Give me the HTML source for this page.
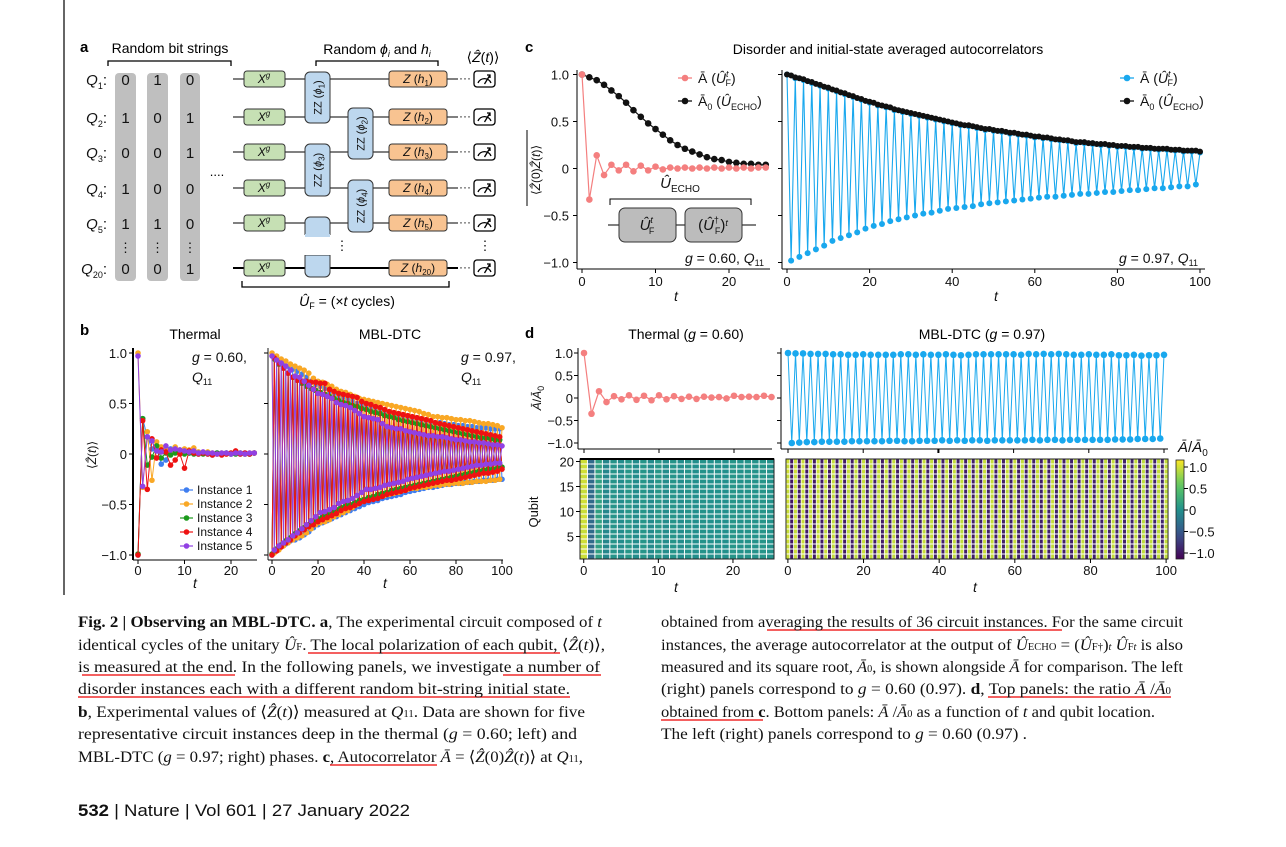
<!DOCTYPE html>
<html><head><meta charset="utf-8">
<style>
html,body{margin:0;padding:0;background:#fff;}
svg{display:block;font-family:"Liberation Sans",sans-serif;}
.cap{font-family:"Liberation Serif",serif;font-size:16px;fill:#111;}
.tk{font-size:13px;fill:#111;}
</style></head>
<body>
<svg id="fig" width="1286" height="847" viewBox="0 0 1286 847" xmlns="http://www.w3.org/2000/svg">
<rect width="1286" height="847" fill="#fff"/>
<line x1="64" y1="0" x2="64" y2="595" stroke="#000" stroke-width="1.2"/>

<g id="panel-a">
<text x="80" y="52" font-size="15" font-weight="bold">a</text>
<text x="170" y="53" font-size="14" text-anchor="middle">Random bit strings</text>
<path d="M108 66 V61 H231 V66" fill="none" stroke="#000" stroke-width="1.3"/>
<text x="377" y="54" font-size="14" text-anchor="middle">Random <tspan font-style="italic">ϕ</tspan><tspan font-size="9" font-style="italic" dy="3">i</tspan><tspan dy="-3"> and </tspan><tspan font-style="italic">h</tspan><tspan font-size="9" font-style="italic" dy="3">i</tspan></text>
<path d="M316 66 V61 H438 V66" fill="none" stroke="#000" stroke-width="1.3"/>
<text x="483" y="62" font-size="14" text-anchor="middle">⟨<tspan font-style="italic">Ẑ</tspan>(<tspan font-style="italic">t</tspan>)⟩</text>
<g id="grey-cols">
<rect x="115" y="73" width="21" height="208" rx="4" fill="#bfbfbf"/>
<rect x="147" y="73" width="21" height="208" rx="4" fill="#bfbfbf"/>
<rect x="180" y="73" width="20" height="208" rx="4" fill="#bfbfbf"/>
</g>
<g id="circuit"></g>
<path d="M242 260 V266 H449 V260" fill="none" stroke="#000" stroke-width="1.3" transform="translate(0,21)"/>
<text x="347" y="306" font-size="14" text-anchor="middle"><tspan font-style="italic">Û</tspan><tspan font-size="9" dy="3">F</tspan><tspan dy="-3"> = (×</tspan><tspan font-style="italic">t</tspan> cycles)</text>
<text x="217" y="176" font-size="13" text-anchor="middle">....</text>
</g>

<text x="525" y="52" font-size="15" font-weight="bold">c</text>
<text x="888" y="54" font-size="14" text-anchor="middle">Disorder and initial-state averaged autocorrelators</text>
<g id="panel-c"></g>

<text x="80" y="335" font-size="15" font-weight="bold">b</text>
<text x="195" y="339" font-size="14" text-anchor="middle">Thermal</text>
<text x="390" y="339" font-size="14" text-anchor="middle">MBL-DTC</text>
<g id="panel-b"></g>

<text x="525" y="338" font-size="15" font-weight="bold">d</text>
<text x="686" y="339" font-size="14" text-anchor="middle">Thermal (<tspan font-style="italic">g</tspan> = 0.60)</text>
<text x="982" y="339" font-size="14" text-anchor="middle">MBL-DTC (<tspan font-style="italic">g</tspan> = 0.97)</text>
<g id="panel-d"></g>

<g id="caption">
<g stroke="#e00" stroke-width="1.3">
<line x1="308" y1="653" x2="560" y2="653"/>
<line x1="82" y1="675" x2="235" y2="675"/>
<line x1="503" y1="675" x2="601" y2="675"/>
<line x1="78" y1="697" x2="570" y2="697"/>
<line x1="330" y1="765" x2="437" y2="765"/>
<line x1="767" y1="630" x2="1062" y2="630"/>
<line x1="988" y1="697" x2="1171" y2="697"/>
<line x1="661" y1="720" x2="763" y2="720"/>
</g>
<text class="cap" x="78" y="627" textLength="524" lengthAdjust="spacingAndGlyphs"><tspan font-weight="bold">Fig. 2 | Observing an MBL-DTC. a</tspan>, The experimental circuit composed of <tspan font-style="italic">t</tspan></text>
<text class="cap" x="78" y="650" textLength="527" lengthAdjust="spacingAndGlyphs">identical cycles of the unitary <tspan font-style="italic">Û</tspan><tspan font-size="10">F</tspan>. The local polarization of each qubit, ⟨<tspan font-style="italic">Ẑ</tspan>(<tspan font-style="italic">t</tspan>)⟩,</text>
<text class="cap" x="78" y="672" textLength="522" lengthAdjust="spacingAndGlyphs">is measured at the end. In the following panels, we investigate a number of</text>
<text class="cap" x="78" y="694" textLength="492" lengthAdjust="spacingAndGlyphs">disorder instances each with a different random bit-string initial state.</text>
<text class="cap" x="78" y="717" textLength="507" lengthAdjust="spacingAndGlyphs"><tspan font-weight="bold">b</tspan>, Experimental values of ⟨<tspan font-style="italic">Ẑ</tspan>(<tspan font-style="italic">t</tspan>)⟩ measured at <tspan font-style="italic">Q</tspan><tspan font-size="10">11</tspan>. Data are shown for five</text>
<text class="cap" x="78" y="739" textLength="499" lengthAdjust="spacingAndGlyphs">representative circuit instances deep in the thermal (<tspan font-style="italic">g</tspan> = 0.60; left) and</text>
<text class="cap" x="78" y="762" textLength="505" lengthAdjust="spacingAndGlyphs">MBL-DTC (<tspan font-style="italic">g</tspan> = 0.97; right) phases. <tspan font-weight="bold">c</tspan>, Autocorrelator <tspan font-style="italic">Ā</tspan> = ⟨<tspan font-style="italic">Ẑ</tspan>(0)<tspan font-style="italic">Ẑ</tspan>(<tspan font-style="italic">t</tspan>)⟩ at <tspan font-style="italic">Q</tspan><tspan font-size="10">11</tspan>,</text>
<text class="cap" x="661" y="627" textLength="522" lengthAdjust="spacingAndGlyphs">obtained from averaging the results of 36 circuit instances. For the same circuit</text>
<text class="cap" x="661" y="650" textLength="522" lengthAdjust="spacingAndGlyphs">instances, the average autocorrelator at the output of <tspan font-style="italic">Û</tspan><tspan font-size="10">ECHO</tspan> = (<tspan font-style="italic">Û</tspan><tspan font-size="10">F</tspan><tspan font-size="10">†</tspan>)<tspan font-size="10" font-style="italic">t</tspan> <tspan font-style="italic">Û</tspan><tspan font-size="10">F</tspan><tspan font-size="10" font-style="italic">t</tspan> is also</text>
<text class="cap" x="661" y="672" textLength="522" lengthAdjust="spacingAndGlyphs">measured and its square root, <tspan font-style="italic">Ā</tspan><tspan font-size="10">0</tspan>, is shown alongside <tspan font-style="italic">Ā</tspan> for comparison. The left</text>
<text class="cap" x="661" y="694" textLength="510" lengthAdjust="spacingAndGlyphs">(right) panels correspond to <tspan font-style="italic">g</tspan> = 0.60 (0.97). <tspan font-weight="bold">d</tspan>, Top panels: the ratio <tspan font-style="italic">Ā</tspan> /<tspan font-style="italic">Ā</tspan><tspan font-size="10">0</tspan></text>
<text class="cap" x="661" y="717" textLength="494" lengthAdjust="spacingAndGlyphs">obtained from <tspan font-weight="bold">c</tspan>. Bottom panels: <tspan font-style="italic">Ā</tspan> /<tspan font-style="italic">Ā</tspan><tspan font-size="10">0</tspan> as a function of <tspan font-style="italic">t</tspan> and qubit location.</text>
<text class="cap" x="661" y="739" textLength="366" lengthAdjust="spacingAndGlyphs">The left (right) panels correspond to <tspan font-style="italic">g</tspan> = 0.60 (0.97) .</text>
</g>
<text x="78" y="816" font-size="17" textLength="332" lengthAdjust="spacingAndGlyphs" fill="#111"><tspan font-weight="bold">532</tspan>  |  Nature  |  Vol 601  |  27 January 2022</text>
</svg>

<script>
const bitRows = ["Q1","Q2","Q3","Q4","Q5","Q20"];
const bitCol1 = ["0","1","0","1","1","0"];
const bitCol2 = ["1","0","0","0","1","0"];
const bitCol3 = ["0","1","1","0","0","1"];
const hLabels = ["1","2","3","4","5","20"];

const cLeftTicksY = [1.0, 0.5, 0, -0.5, -1.0];
const cLeftTickLabelsY = ["1.0","0.5","0","−0.5","−1.0"];
const cLeftTicksX = [0, 10, 20];
const cRightTicksX = [0, 20, 40, 60, 80, 100];
const cLeftRed = [1.0,-0.33,0.14,-0.07,0.04,-0.02,0.04,-0.03,0.03,-0.02,0.02,-0.01,0.01,0.00,0.01,0.00,0.01,0.00,0.01,0.00,0.01,0.00,0.01,0.00,0.01,0.01];
const cLeftBlack = [1.0,0.97,0.94,0.89,0.83,0.77,0.70,0.62,0.55,0.48,0.42,0.36,0.30,0.25,0.21,0.18,0.15,0.12,0.10,0.09,0.07,0.06,0.05,0.05,0.04,0.04];
const cRightBlack = [1.00,.99,.97,.96,.95,.93,.92,.90,.89,.87,.86,.84,.83,.81,.80,.78,.77,.75,.74,.72,.71,.70,.68,.67,.66,.65,.63,.62,.61,.60,.59,.58,.57,.56,.55,.54,.53,.52,.51,.50,.49,.48,.47,.46,.46,.45,.44,.43,.42,.42,.41,.40,.40,.39,.38,.38,.37,.36,.36,.35,.34,.34,.33,.33,.32,.31,.31,.30,.30,.29,.28,.28,.28,.27,.27,.26,.26,.26,.25,.25,.24,.24,.24,.23,.23,.23,.22,.22,.22,.21,.21,.21,.21,.20,.20,.20,.19,.19,.19,.19,.18];
const cRightBlue = [1.00,-.98,.96,-.94,.94,-.90,.91,-.86,.88,-.82,.85,-.77,.82,-.74,.79,-.71,.76,-.68,.73,-.64,.70,-.61,.67,-.59,.65,-.56,.62,-.54,.60,-.52,.58,-.50,.56,-.48,.54,-.47,.52,-.45,.50,-.43,.48,-.42,.46,-.41,.45,-.40,.43,-.38,.41,-.37,.40,-.36,.39,-.35,.37,-.34,.36,-.33,.35,-.32,.33,-.31,.32,-.30,.31,-.30,.30,-.29,.29,-.28,.27,-.27,.27,-.27,.26,-.26,.25,-.25,.24,-.25,.23,-.24,.23,-.23,.22,-.23,.21,-.22,.21,-.21,.20,-.21,.20,-.20,.19,-.19,.18,-.19,.18,-.17,.17];

const bLeftTicksX = [0, 10, 20];
const bRightTicksX = [0, 20, 40, 60, 80, 100];
const bInstanceNames = ["Instance 1","Instance 2","Instance 3","Instance 4","Instance 5"];
const bThermal1 = [-1,0.35,0.17,0.05,0.06,-0.10,-0.06,0.05,0.03,0.02,0.03,0.01,0.02,0.00,0.01,0.00,-0.01,0.01,0.00,0.01,0.00,0.01,0.00,0.01,0.00,0.01];
const bThermal2 = [1,-0.33,0.22,-0.26,0.12,0.07,0.05,0.02,0.07,0.04,0.05,0.04,0.06,0.02,0.01,0.02,0.01,0.00,0.01,0.00,0.01,0.02,0.01,0.00,0.01,0.01];
const bThermal3 = [-0.99,0.35,-0.11,-0.03,0.08,-0.04,0.01,-0.01,0.01,0.02,0.00,0.01,0.00,0.01,0.00,0.01,0.00,0.01,0.00,0.01,0.00,0.00,0.01,0.00,0.00,0.01];
const bThermal4 = [-1,0.33,-0.35,0.15,-0.04,0.04,0.02,-0.11,-0.06,0.00,-0.14,0.03,0.01,0.00,0.01,0.00,-0.01,0.00,-0.01,0.00,0.01,0.03,0.00,0.01,0.00,0.01];
const bThermal5 = [0.97,-0.32,0.17,0.13,0.03,0.02,0.08,0.04,0.05,0.04,0.03,0.02,0.03,0.01,0.02,0.01,0.01,0.00,0.01,0.01,0.00,0.01,0.01,0.00,0.01,0.01];
const bMbl1 = [-100,96,-95,93,-92,90,-89,87,-86,84,-85,82,-83,79,-80,76,-77,72,-73,69,-70,67,-68,65,-66,62,-64,60,-62,58,-60,56,-58,54,-56,52,-54,50,-52,48,-50,46,-48,45,-47,44,-46,43,-44,42,-43,41,-42,40,-41,39,-40,38,-38,37,-37,36,-36,35,-35,34,-34,33,-33,32,-33,31,-32,31,-31,30,-30,29,-30,29,-29,28,-29,28,-28,27,-28,27,-27,26,-27,26,-26,26,-26,25,-26,25,-25,25,-25];
const bMbl2 = [100,-98,97,-95,94,-91,92,-88,89,-85,87,-83,85,-81,83,-78,80,-74,75,-70,72,-68,71,-67,69,-65,67,-62,64,-60,62,-58,61,-56,59,-53,57,-50,55,-47,54,-45,53,-44,52,-43,51,-42,50,-41,49,-40,48,-39,47,-38,46,-36,45,-35,44,-34,43,-34,42,-33,40,-33,39,-32,37,-31,37,-31,36,-30,36,-30,35,-29,34,-29,34,-29,33,-28,33,-28,32,-27,31,-27,30,-27,30,-26,29,-26,28,-25,26];
const bMbl3 = [-99,94,-94,89,-90,85,-86,80,-83,76,-79,73,-76,70,-73,67,-70,65,-67,63,-64,61,-62,59,-60,57,-57,55,-55,53,-53,51,-51,50,-50,48,-48,47,-46,45,-45,44,-43,42,-42,41,-40,40,-39,38,-38,37,-36,36,-35,34,-34,33,-33,32,-32,31,-31,30,-30,29,-29,28,-28,27,-27,26,-26,25,-25,24,-24,23,-23,22,-22,21,-21,20,-20,19,-19,18,-18,17,-17,16,-16,16,-15,15,-15,14,-14,14,-13];
const bMbl4 = [-100,95,-96,90,-92,85,-88,80,-85,76,-81,73,-78,72,-75,72,-72,71,-70,71,-67,70,-65,70,-63,64,-61,62,-59,60,-56,59,-54,58,-53,57,-51,56,-49,52,-47,50,-46,49,-45,47,-44,46,-42,44,-40,42,-39,41,-38,40,-37,39,-36,38,-34,37,-33,36,-32,35,-31,34,-30,33,-29,31,-28,30,-27,29,-26,28,-26,27,-25,26,-24,25,-23,24,-22,23,-21,22,-20,21,-19,20,-19,19,-18,18,-17,17,-15];
const bMbl5 = [97,-95,93,-91,90,-88,87,-85,83,-81,77,-78,76,-74,72,-70,68,-66,64,-62,60,-58,59,-57,57,-55,55,-53,51,-49,49,-47,48,-46,46,-44,43,-41,40,-38,37,-35,36,-35,35,-34,34,-33,30,-31,27,-30,26,-29,25,-28,25,-27,23,-25,22,-24,21,-23,20,-22,19,-21,18,-20,18,-19,17,-18,17,-17,16,-17,15,-16,14,-15,14,-14,13,-13,12,-12,12,-11,11,-11,11,-10,10,-10,9,-9,9,-9,8];

const dLeftRatio = [1.0,-0.35,0.15,-0.09,0.04,-0.03,0.06,-0.04,0.05,-0.05,0.06,-0.03,0.04,-0.02,0.03,-0.02,0.03,0.01,0.02,-0.01,0.05,0.02,0.03,0.02,0.05,0.02];
const dRightRatio = [100,-100,99,-99,99,-98,98,-98,98,-97,98,-97,97,-97,97,-97,96,-96,96,-96,97,-96,96,-96,96,-96,96,-95,96,-95,97,-96,97,-96,96,-95,97,-95,96,-95,96,-94,97,-95,96,-94,95,-95,96,-94,97,-94,97,-95,97,-94,97,-94,97,-94,97,-94,96,-94,98,-93,97,-94,98,-93,97,-93,98,-94,97,-93,96,-93,96,-93,97,-93,96,-93,96,-93,97,-92,95,-92,95,-92,96,-91,94,-91,95,-91,95,-90,96];
const qubitFactors = [0.98,1.0,0.97,0.99,1.0,0.96,0.99,0.98,1.0,0.97,0.99,1.0,0.98,0.96,1.0,0.99,0.97,1.0,0.98,0.99];
const qubitTicks = [5, 10, 15, 20];
const dLeftTicksX = [0, 10, 20];
const dRightTicksX = [0, 20, 40, 60, 80, 100];
const colorbarTicks = [1.0, 0.5, 0, -0.5, -1.0];
const colorbarTickLabels = ["1.0","0.5","0","−0.5","−1.0"];

const NS = "http://www.w3.org/2000/svg";
function mk(tag, attrs, parent, txt) {
  const e = document.createElementNS(NS, tag);
  for (const k in attrs) e.setAttribute(k, attrs[k]);
  if (txt !== undefined) e.textContent = txt;
  parent.appendChild(e);
  return e;
}
function viridis(v, lo, hi) {
  let u = (v - lo) / (hi - lo); u = Math.max(0, Math.min(1, u));
  const st = [[68,1,84],[59,82,139],[33,145,140],[94,201,98],[253,231,37]];
  const p = u * 4, i = Math.min(3, Math.floor(p)), f = p - i;
  const c = st[i].map((a, j) => Math.round(a + (st[i+1][j] - a) * f));
  return "rgb(" + c.join(",") + ")";
}
function series(parent, vals, xf, yf, color, r, lw, name, scale) {
  const s = scale || 1;
  const pts = vals.map((v, t) => xf(t).toFixed(2) + "," + yf(v / s).toFixed(2)).join(" ");
  const pl = mk("polyline", {points: pts, fill: "none", stroke: color, "stroke-width": lw}, parent);
  
  
  vals.forEach((v, t) => {
    const c = mk("circle", {cx: xf(t).toFixed(2), cy: yf(v / s).toFixed(2), r: r, fill: color}, parent);
    
    
  });
}
function axisLine(parent, x1, y1, x2, y2, name, color, w) {
  const l = mk("line", {x1, y1, x2, y2, stroke: color || "#000", "stroke-width": w || 1}, parent);
  
  
  return l;
}
function label(parent, x, y, txt, anchor, name, size, extra) {
  const a = Object.assign({x, y, "text-anchor": anchor || "middle", "font-size": size || 13, fill: "#111"}, extra || {});
  const t = mk("text", a, parent, txt);
  
  
  return t;
}
function richLabel(parent, x, y, html, anchor, name, size, extra) {
  const t = label(parent, x, y, "", anchor, name, size, extra);
  t.innerHTML = html;
  return t;
}

(function(){
  const g = document.getElementById("circuit");
  const wy = [79, 117, 152, 188, 223, 268];
  const colX = [125.5, 157.5, 190];
  const cols = [bitCol1, bitCol2, bitCol3];
  wy.forEach((y, i) => {
    richLabel(g, 107, y + 6, '<tspan font-style="italic">Q</tspan><tspan font-size="9" dy="4">' + bitRows[i].slice(1) + '</tspan><tspan dy="-4">:</tspan>', "end", "qubit-label-" + bitRows[i].toLowerCase(), 15);
    cols.forEach((col, j) => {
      label(g, colX[j], y + 6, col[i], "middle", "bit-" + bitRows[i].toLowerCase() + "-col" + (j+1), 15);
    });
    axisLine(g, 233, y, 458, y, "wire-" + bitRows[i].toLowerCase(), "#000", i === 5 ? 2 : 1);
    const xg = mk("rect", {x: 244, y: y - 8, width: 41, height: 16, rx: 3, fill: "#c6e0b4", stroke: "#333", "stroke-width": 1}, g);
    
    
    richLabel(g, 264, y + 4, '<tspan font-style="italic">X</tspan><tspan font-size="8" font-style="italic" dy="-5">g</tspan>', "middle", "x-gate-text", 12);
    const zb = mk("rect", {x: 389, y: y - 8, width: 58, height: 16, rx: 3, fill: "#f8c391", stroke: "#333", "stroke-width": 1}, g);
    
    
    richLabel(g, 418, y + 4, '<tspan font-style="italic">Z</tspan> (<tspan font-style="italic">h</tspan><tspan font-size="8" dy="3">' + hLabels[i] + '</tspan><tspan dy="-3">)</tspan>', "middle", "z-gate-text", 12);
    label(g, 465, y + 3, "···", "middle", "wire-ellipsis", 12);
    const mb = mk("rect", {x: 474, y: y - 8, width: 21, height: 16, rx: 3, fill: "#fff", stroke: "#000", "stroke-width": 1.3}, g);
    
    
    const arc = mk("path", {d: "M478 " + (y+4) + " A7 7 0 0 1 491 " + (y+4) + " M484.5 " + (y+5) + " L490 " + (y-4) + " M487 " + (y-4) + " L490 " + (y-4) + " L490 " + (y-1), fill: "none", stroke: "#000", "stroke-width": 1.3}, g);
    
    
  });
  const zz = [
    [305, 72, 51, "1"], [305, 144, 52, "3"],
    [348, 108, 51, "2"], [348, 180, 52, "4"]
  ];
  zz.forEach(z => {
    const r = mk("rect", {x: z[0], y: z[1], width: 25, height: z[2], rx: 5, fill: "#bdd7ee", stroke: "#333", "stroke-width": 1}, g);
    
    
    const cx = z[0] + 12.5, cy = z[1] + z[2] / 2;
    richLabel(g, cx + 4, cy, 'ZZ (<tspan font-style="italic">ϕ</tspan><tspan font-size="8" dy="3">' + z[3] + '</tspan><tspan dy="-3">)</tspan>', "middle", "zz-gate-text", 11, {transform: "rotate(-90 " + (cx+4) + " " + cy + ")"});
  });
  const p1 = mk("path", {d: "M305 235 V222 A5 5 0 0 1 310 217 H325 A5 5 0 0 1 330 222 V235 Z", fill: "#bdd7ee", stroke: "#333", "stroke-width": 1}, g);
  
  
  const p2 = mk("path", {d: "M305 255 V272 A5 5 0 0 0 310 277 H325 A5 5 0 0 0 330 272 V255 Z", fill: "#bdd7ee", stroke: "#333", "stroke-width": 1}, g);
  
  
  const cover = mk("rect", {x: 303, y: 235, width: 29, height: 20, fill: "#fff"}, g);
  
  
  const c1 = mk("rect", {x: 305, y: 234, width: 25, height: 3, fill: "#bdd7ee"}, g);
  
  
  label(g, 342, 250, "⋮", "middle", "vertical-ellipsis-gates", 13);
  label(g, 485, 250, "⋮", "middle", "vertical-ellipsis-meters", 13);
  colX.forEach((x, j) => label(g, x, 252, "⋮", "middle", "vertical-ellipsis-bits", 13));
})();

(function(){
  const g = document.getElementById("panel-c");
  const yC = v => 168.5 - v * 94;
  const xL = t => 582 + t * 7.35;
  const xR = t => 787 + t * 4.13;
  axisLine(g, 577, 70, 577, 269, "c-left-y-axis");
  axisLine(g, 577, 269, 770, 269, "c-left-x-axis");
  axisLine(g, 782, 70, 782, 269, "c-right-y-axis");
  axisLine(g, 782, 269, 1205, 269, "c-right-x-axis");
  cLeftTicksY.forEach((v, i) => {
    axisLine(g, 573, yC(v), 577, yC(v), "c-left-y-tick");
    axisLine(g, 778, yC(v), 782, yC(v), "c-right-y-tick");
    label(g, 569, yC(v) + 5, cLeftTickLabelsY[i], "end", "c-left-y-tick-label");
  });
  cLeftTicksX.forEach(t => { axisLine(g, xL(t), 269, xL(t), 273, "c-left-x-tick"); label(g, xL(t), 286, String(t), "middle", "c-left-x-tick-label"); });
  cRightTicksX.forEach(t => { axisLine(g, xR(t), 269, xR(t), 273, "c-right-x-tick"); label(g, xR(t), 286, String(t), "middle", "c-right-x-tick-label"); });
  label(g, 676, 301, "t", "middle", "c-left-x-axis-title", 14, {"font-style": "italic"});
  label(g, 996, 301, "t", "middle", "c-right-x-axis-title", 14, {"font-style": "italic"});
  richLabel(g, 540, 170, '⟨<tspan font-style="italic">Ẑ</tspan>(0)<tspan font-style="italic">Ẑ</tspan>(<tspan font-style="italic">t</tspan>)⟩', "middle", "c-y-axis-title", 12, {transform: "rotate(-90 540 170)"});
  axisLine(g, 527, 130, 527, 206, "c-y-axis-overline");
  richLabel(g, 680, 188, '<tspan font-style="italic">Û</tspan><tspan font-size="10" dy="4">ECHO</tspan>', "middle", "echo-label", 15);
  const br = mk("path", {d: "M610 205 V199 H751 V205", fill: "none", stroke: "#000", "stroke-width": 1}, g);
  
  
  axisLine(g, 608, 225, 756, 225, "echo-wire");
  const b1 = mk("rect", {x: 619, y: 208, width: 57, height: 34, rx: 6, fill: "#bcbcbc", stroke: "#333"}, g);
  
  
  const b2 = mk("rect", {x: 685, y: 208, width: 57, height: 34, rx: 6, fill: "#bcbcbc", stroke: "#333"}, g);
  
  
  richLabel(g, 647, 230, '<tspan font-style="italic">Û</tspan><tspan font-size="9" dy="-7" font-style="italic">t</tspan><tspan font-size="9" dx="-4" dy="11">F</tspan>', "middle", "echo-forward-text", 15);
  richLabel(g, 713, 230, '(<tspan font-style="italic">Û</tspan><tspan font-size="9" dy="-7">†</tspan><tspan font-size="9" dx="-4" dy="11">F</tspan><tspan dy="-4">)</tspan><tspan font-size="9" font-style="italic" dy="-4">t</tspan>', "middle", "echo-backward-text", 15);
  richLabel(g, 764, 263, '<tspan font-style="italic">g</tspan> = 0.60, <tspan font-style="italic">Q</tspan><tspan font-size="9" dy="3">11</tspan>', "end", "c-left-annotation", 14);
  richLabel(g, 1198, 263, '<tspan font-style="italic">g</tspan> = 0.97, <tspan font-style="italic">Q</tspan><tspan font-size="9" dy="3">11</tspan>', "end", "c-right-annotation", 14);
  series(g, cLeftBlack, xL, yC, "#111", 3.3, 1.2, "c-left-a0-echo");
  series(g, cLeftRed, xL, yC, "#f47f7f", 3.3, 1.2, "c-left-a-floquet");
  series(g, cRightBlue, xR, yC, "#19a8ee", 3, 1.1, "c-right-a-floquet");
  series(g, cRightBlack, xR, yC, "#111", 3, 1.1, "c-right-a0-echo");
  const legs = [[678, 78, "#f47f7f", 'Ā (<tspan font-style="italic">Û</tspan><tspan font-size="9" dy="-6" font-style="italic">t</tspan><tspan font-size="9" dx="-3" dy="9">F</tspan><tspan dy="-3">)</tspan>', "c-left-legend-a"],
                [678, 101, "#111", 'Ā<tspan font-size="9" dy="4">0</tspan><tspan dy="-4"> (</tspan><tspan font-style="italic">Û</tspan><tspan font-size="9" dy="4">ECHO</tspan><tspan dy="-4">)</tspan>', "c-left-legend-a0"],
                [1120, 78, "#19a8ee", 'Ā (<tspan font-style="italic">Û</tspan><tspan font-size="9" dy="-6" font-style="italic">t</tspan><tspan font-size="9" dx="-3" dy="9">F</tspan><tspan dy="-3">)</tspan>', "c-right-legend-a"],
                [1120, 101, "#111", 'Ā<tspan font-size="9" dy="4">0</tspan><tspan dy="-4"> (</tspan><tspan font-style="italic">Û</tspan><tspan font-size="9" dy="4">ECHO</tspan><tspan dy="-4">)</tspan>', "c-right-legend-a0"]];
  legs.forEach(L => {
    axisLine(g, L[0], L[1], L[0] + 14, L[1], L[4] + "-swatch-line", L[2], 1.3);
    const c = mk("circle", {cx: L[0] + 7, cy: L[1], r: 3.3, fill: L[2]}, g);
    
    
    richLabel(g, L[0] + 20, L[1] + 5, L[3], "start", L[4] + "-text", 14);
  });
})();

(function(){
  const g = document.getElementById("panel-b");
  const yB = v => 454 - v * 101;
  const xL = t => 138 + t * 4.65;
  const xR = t => 272 + t * 2.3;
  axisLine(g, 133, 348, 133, 560, "b-left-y-axis", "#000", 2);
  axisLine(g, 133, 560, 257, 560, "b-left-x-axis");
  axisLine(g, 268, 348, 268, 560, "b-right-y-axis", "#666", 1.5);
  axisLine(g, 268, 560, 503, 560, "b-right-x-axis");
  cLeftTicksY.forEach((v, i) => {
    axisLine(g, 129, yB(v), 133, yB(v), "b-left-y-tick");
    axisLine(g, 264, yB(v), 268, yB(v), "b-right-y-tick");
    label(g, 127, yB(v) + 5, cLeftTickLabelsY[i], "end", "b-left-y-tick-label");
  });
  bLeftTicksX.forEach(t => { axisLine(g, xL(t), 560, xL(t), 564, "b-left-x-tick"); label(g, xL(t), 575, String(t), "middle", "b-left-x-tick-label"); });
  bRightTicksX.forEach(t => { axisLine(g, xR(t), 560, xR(t), 564, "b-right-x-tick"); label(g, xR(t), 575, String(t), "middle", "b-right-x-tick-label"); });
  label(g, 195, 588, "t", "middle", "b-left-x-axis-title", 14, {"font-style": "italic"});
  label(g, 385, 588, "t", "middle", "b-right-x-axis-title", 14, {"font-style": "italic"});
  richLabel(g, 96, 455, '⟨<tspan font-style="italic">Ẑ</tspan>(<tspan font-style="italic">t</tspan>)⟩', "middle", "b-y-axis-title", 12, {transform: "rotate(-90 96 455)"});
  const colors = ["#3f7ef0", "#f9a825", "#1c9a1c", "#ee1212", "#9141e3"];
  const thermal = [bThermal1, bThermal2, bThermal3, bThermal4, bThermal5];
  const mbl = [bMbl1, bMbl2, bMbl3, bMbl4, bMbl5];
  thermal.forEach((arr, i) => series(g, arr, xL, yB, colors[i], 2.8, 1, "b-thermal-instance-" + (i+1)));
  mbl.forEach((arr, i) => series(g, arr, xR, yB, colors[i], 2.8, 1, "b-mbl-instance-" + (i+1), 100));
  richLabel(g, 192, 362, '<tspan font-style="italic">g</tspan> = 0.60,', "start", "b-left-annotation-g", 14);
  richLabel(g, 192, 382, '<tspan font-style="italic">Q</tspan><tspan font-size="9" dy="3">11</tspan>', "start", "b-left-annotation-q", 14);
  richLabel(g, 461, 362, '<tspan font-style="italic">g</tspan> = 0.97,', "start", "b-right-annotation-g", 14);
  richLabel(g, 461, 382, '<tspan font-style="italic">Q</tspan><tspan font-size="9" dy="3">11</tspan>', "start", "b-right-annotation-q", 14);
  bInstanceNames.forEach((n, i) => {
    const y = 490 + i * 14;
    axisLine(g, 180, y, 193, y, "b-legend-swatch-line", colors[i], 1.2);
    const c = mk("circle", {cx: 186.5, cy: y, r: 2.8, fill: colors[i]}, g);
    
    
    label(g, 197, y + 4, n, "start", "b-legend-entry-" + (i+1), 12);
  });
})();

(function(){
  const g = document.getElementById("panel-d");
  const yD = v => 398 - v * 45;
  const xL = t => 584 + t * 7.5;
  const xR = t => 788 + t * 3.76;
  axisLine(g, 578, 348, 578, 449, "d-left-y-axis");
  axisLine(g, 578, 449, 772, 449, "d-left-x-axis");
  axisLine(g, 781, 348, 781, 449, "d-right-y-axis");
  axisLine(g, 781, 449, 1168, 449, "d-right-x-axis");
  cLeftTicksY.forEach((v, i) => {
    axisLine(g, 574, yD(v), 578, yD(v), "d-left-y-tick");
    axisLine(g, 777, yD(v), 781, yD(v), "d-right-y-tick");
    label(g, 573, yD(v) + 5, cLeftTickLabelsY[i], "end", "d-left-y-tick-label");
  });
  dLeftTicksX.forEach(t => axisLine(g, xL(t), 449, xL(t), 453, "d-left-top-x-tick"));
  dRightTicksX.forEach(t => axisLine(g, xR(t), 449, xR(t), 453, "d-right-top-x-tick", "#000", t === 40 ? 2 : 1));
  richLabel(g, 541, 398, '<tspan font-style="italic">Ā</tspan>/<tspan font-style="italic">Ā</tspan><tspan font-size="9" dy="3">0</tspan>', "middle", "d-top-y-axis-title", 12, {transform: "rotate(-90 541 398)"});
  series(g, dLeftRatio, xL, yD, "#f47f7f", 3.3, 1.2, "d-left-ratio");
  series(g, dRightRatio, xR, yD, "#19a8ee", 3.3, 1, "d-right-ratio", 100);
  const hTop = 459, hBot = 559, rowH = (hBot - hTop) / 20;
  const lx0 = 580, lcw = (774 - 580) / dLeftRatio.length;
  const rx0 = 786, rcw = (1168 - 786) / dRightRatio.length;
  const bgL = mk("rect", {x: lx0, y: hTop, width: 774 - lx0, height: hBot - hTop, fill: "#fff", stroke: "#222", "stroke-width": 1}, g);
  
  
  const bgR = mk("rect", {x: rx0, y: hTop, width: 1168 - rx0, height: hBot - hTop, fill: "#fff", stroke: "#222", "stroke-width": 1}, g);
  
  
  for (let q = 0; q < 20; q++) {
    const y = hBot - (q + 1) * rowH;
    dLeftRatio.forEach((v, t) => {
      const c = mk("rect", {x: (lx0 + t * lcw + 0.5).toFixed(2), y: (y + 0.5).toFixed(2), width: (lcw - 1).toFixed(2), height: (rowH - 1).toFixed(2), fill: viridis(v * qubitFactors[q], -1.15, 1.16)}, g);
      
      
    });
    dRightRatio.forEach((v, t) => {
      const c = mk("rect", {x: (rx0 + t * rcw + 0.4).toFixed(2), y: (y + 0.5).toFixed(2), width: (rcw - 0.8).toFixed(2), height: (rowH - 1).toFixed(2), fill: viridis(v / 100 * qubitFactors[q], -1.15, 1.16)}, g);
      
      
    });
  }
  axisLine(g, lx0, hTop, 774, hTop, "d-left-heatmap-top-edge", "#000", 2);
  qubitTicks.forEach(q => {
    const y = hBot - (q - 0.5) * rowH;
    axisLine(g, 576, y, 580, y, "qubit-tick");
    label(g, 574, y + 5, String(q), "end", "qubit-tick-label");
  });
  dLeftTicksX.forEach(t => { const x = lx0 + (t + 0.5) * lcw; axisLine(g, x, hBot, x, hBot + 4, "d-left-x-tick"); label(g, x, 575, String(t), "middle", "d-left-x-tick-label"); });
  dRightTicksX.forEach(t => { const x = rx0 + (t + 0.5) * rcw; axisLine(g, x, hBot, x, hBot + 4, "d-right-x-tick"); label(g, x, 575, String(t), "middle", "d-right-x-tick-label"); });
  label(g, 676, 592, "t", "middle", "d-left-x-axis-title", 14, {"font-style": "italic"});
  label(g, 975, 592, "t", "middle", "d-right-x-axis-title", 14, {"font-style": "italic"});
  label(g, 538, 512, "Qubit", "middle", "qubit-axis-title", 13, {transform: "rotate(-90 538 512)"});
  const cbTop = 460, cbBot = 559;
  const yCb = v => 510 - v * 43;
  const defs = mk("defs", {}, g);
  const lg = mk("linearGradient", {id: "vir", x1: 0, y1: 1, x2: 0, y2: 0}, defs);
  for (let i = 0; i <= 10; i++) {
    const v = -1.14 + i * (2.3 / 10);
    mk("stop", {offset: (i / 10), "stop-color": viridis(v, -1.15, 1.16)}, lg);
  }
  const cb = mk("rect", {x: 1176, y: cbTop, width: 8, height: cbBot - cbTop, fill: "url(#vir)", stroke: "#222", "stroke-width": 0.8}, g);
  
  
  colorbarTicks.forEach((v, i) => {
    axisLine(g, 1184, yCb(v), 1188, yCb(v), "colorbar-tick");
    label(g, 1189, yCb(v) + 5, colorbarTickLabels[i], "start", "colorbar-tick-label");
  });
  richLabel(g, 1178, 452, '<tspan font-style="italic">Ā</tspan>/<tspan font-style="italic">Ā</tspan><tspan font-size="10" dy="4">0</tspan>', "start", "colorbar-title", 15);
})();
</script>
</body></html>
